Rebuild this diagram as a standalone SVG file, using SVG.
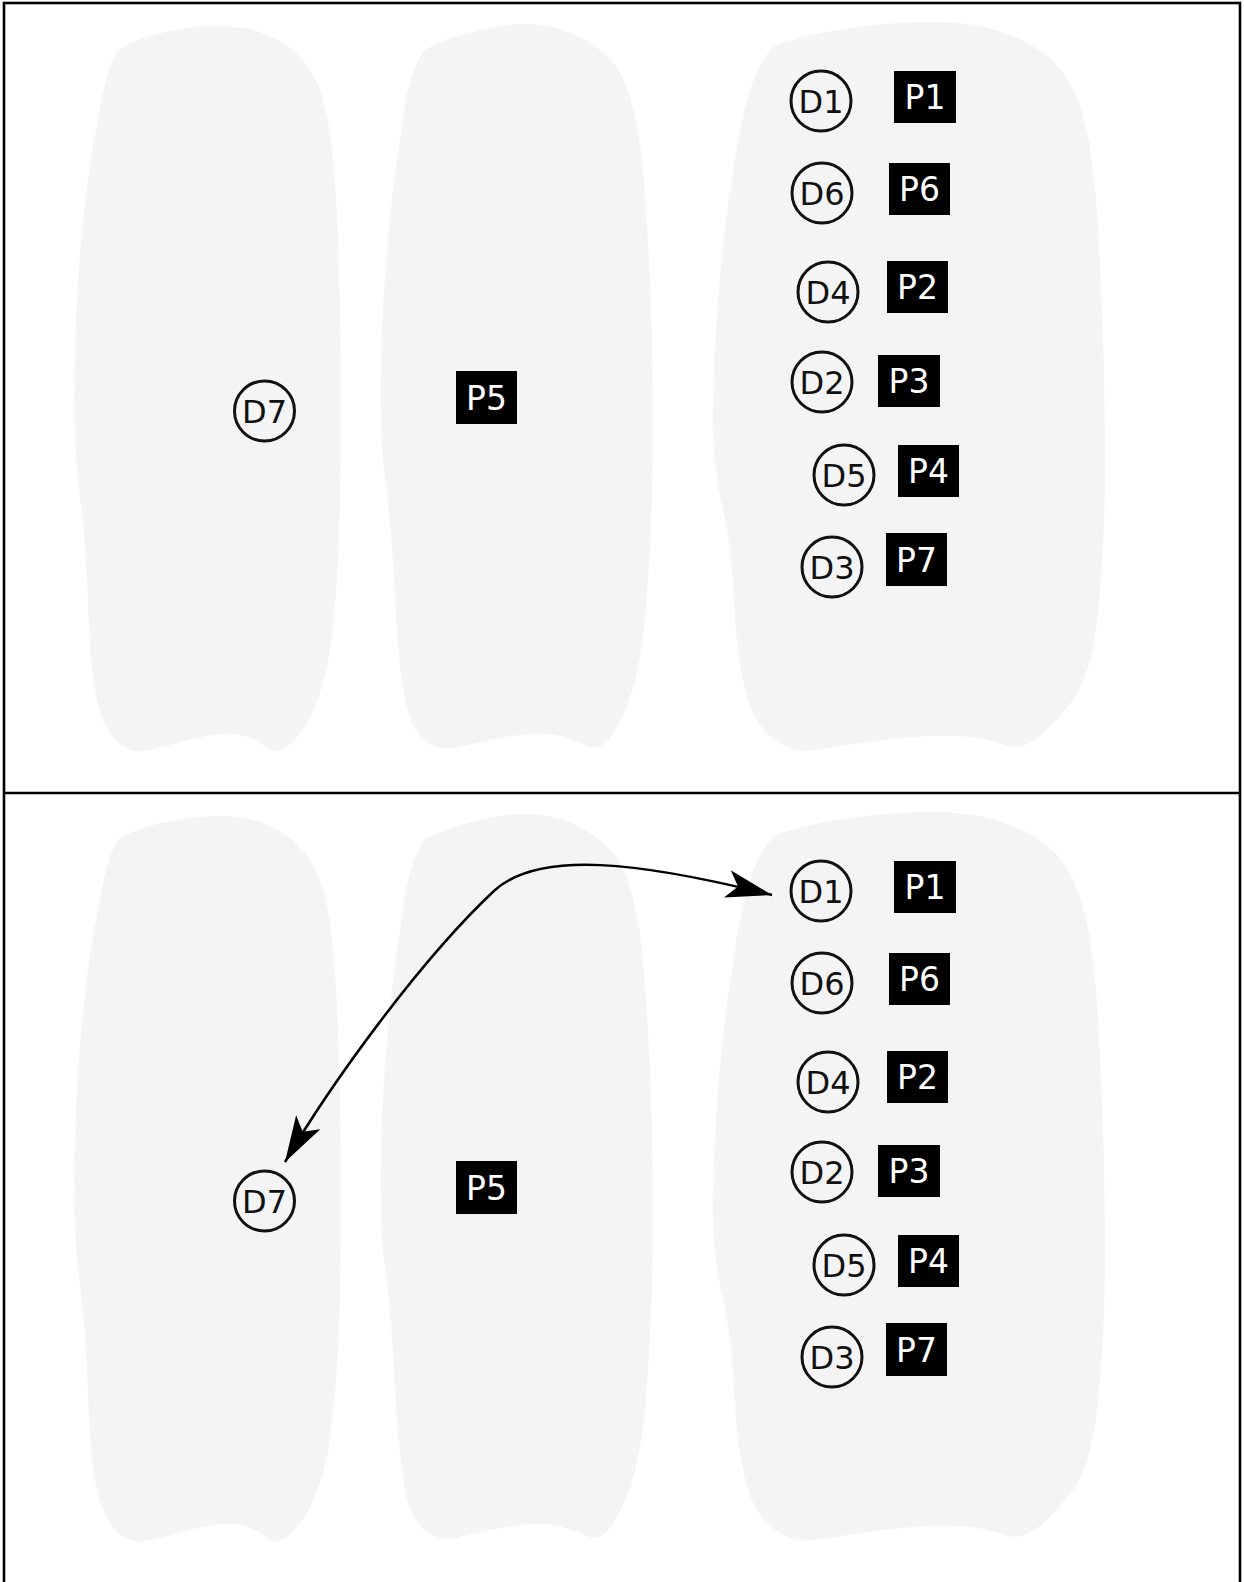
<svg xmlns="http://www.w3.org/2000/svg" width="1244" height="1582" viewBox="0 0 1244 1582">
<style>
.blob{fill:#f4f4f4;stroke:none}
.dnode circle{fill:none;stroke:#111;stroke-width:3}
.dnode text{font-family:"DejaVu Sans","Liberation Sans",sans-serif;font-size:32px;fill:#111;text-anchor:middle}
.pnode rect{fill:#000}
.pnode text{font-family:"DejaVu Sans","Liberation Sans",sans-serif;font-size:33px;fill:#fff;text-anchor:middle}
.frame{fill:none;stroke:#000;stroke-width:2.6}
.conn{fill:none;stroke:#000;stroke-width:2.5}
</style>
<defs>
<path id="blob1" d="M118,50 C140,35 185,26 217,26 C265,26 300,45 318,85 C332,120 336,180 338,240 C340,300 342,380 341,440 C340,540 337,600 330,650 C322,700 305,735 285,748 C278,752 272,752 266,747 C252,737 240,733 222,734 C195,736 165,748 145,751 C125,754 108,740 98,705 C90,670 89,630 87,580 C85,530 80,500 77,470 C73,420 74,380 76,320 C79,250 86,180 96,130 C102,95 108,65 118,50 Z"/>
<path id="blob2" d="M425,50 C450,35 495,24 527,24 C560,24 595,40 615,65 C632,90 640,130 644,180 C650,260 653,340 653,420 C653,500 650,560 645,620 C640,670 630,710 610,738 C602,748 594,750 585,745 C570,738 555,733 532,734 C505,735 475,744 455,748 C430,752 412,735 405,700 C398,660 396,620 394,580 C392,540 388,500 384,470 C380,430 380,380 382,330 C385,260 392,190 400,140 C405,100 410,70 425,50 Z"/>
<path id="blob3" d="M775,45 C820,30 880,22 935,22 C990,22 1040,40 1065,75 C1085,105 1092,150 1096,200 C1102,280 1105,380 1105,460 C1105,530 1102,580 1096,630 C1090,670 1080,695 1063,712 C1045,735 1025,752 1005,745 C985,738 965,735 932,736 C890,737 850,745 815,750 C790,754 765,740 752,710 C740,680 736,640 734,600 C732,560 728,530 722,505 C714,470 712,440 713,400 C715,320 722,240 732,180 C740,120 750,70 775,45 Z"/>
<marker id="arrow" viewBox="-50 -16 52 32" markerWidth="52" markerHeight="32" refX="0" refY="0" orient="auto-start-reverse" markerUnits="userSpaceOnUse">
<path d="M0,0 L-46,-14 L-35,0 L-46,14 Z" fill="#000"/>
</marker>
</defs>
<rect width="1244" height="1582" fill="#fff"/>

<g id="panel-top">
<g id="top-regions">
<use href="#blob1" class="blob"/>
<use href="#blob2" class="blob"/>
<use href="#blob3" class="blob"/>
</g>
<g id="top-D7" class="dnode"><circle cx="264.5" cy="411" r="30"/><text x="264.5" y="423">D7</text></g>
<g id="top-P5" class="pnode"><rect x="456" y="371" width="61" height="53"/><text x="486.5" y="409.5">P5</text></g>
<g id="top-D1" class="dnode"><circle cx="821" cy="101" r="30"/><text x="821" y="113">D1</text></g>
<g id="top-P1" class="pnode"><rect x="894" y="71" width="62" height="52"/><text x="925" y="109">P1</text></g>
<g id="top-D6" class="dnode"><circle cx="822" cy="193" r="30"/><text x="822" y="205">D6</text></g>
<g id="top-P6" class="pnode"><rect x="889" y="163" width="61" height="52"/><text x="919.5" y="201">P6</text></g>
<g id="top-D4" class="dnode"><circle cx="828" cy="292" r="30"/><text x="828" y="304">D4</text></g>
<g id="top-P2" class="pnode"><rect x="887" y="261" width="61" height="52"/><text x="917.5" y="299">P2</text></g>
<g id="top-D2" class="dnode"><circle cx="822" cy="382" r="30"/><text x="822" y="394">D2</text></g>
<g id="top-P3" class="pnode"><rect x="878" y="355" width="62" height="52"/><text x="909" y="393">P3</text></g>
<g id="top-D5" class="dnode"><circle cx="844" cy="475" r="30"/><text x="844" y="487">D5</text></g>
<g id="top-P4" class="pnode"><rect x="898" y="445" width="61" height="52"/><text x="928.5" y="483">P4</text></g>
<g id="top-D3" class="dnode"><circle cx="832" cy="567" r="30"/><text x="832" y="579">D3</text></g>
<g id="top-P7" class="pnode"><rect x="886" y="533" width="61" height="53"/><text x="916.5" y="571.5">P7</text></g>
</g>

<g id="panel-bottom" transform="translate(0,790)">
<g id="bottom-regions">
<use href="#blob1" class="blob"/>
<use href="#blob2" class="blob"/>
<use href="#blob3" class="blob"/>
</g>
<g id="bot-D7" class="dnode"><circle cx="264.5" cy="411" r="30"/><text x="264.5" y="423">D7</text></g>
<g id="bot-P5" class="pnode"><rect x="456" y="371" width="61" height="53"/><text x="486.5" y="409.5">P5</text></g>
<g id="bot-D1" class="dnode"><circle cx="821" cy="101" r="30"/><text x="821" y="113">D1</text></g>
<g id="bot-P1" class="pnode"><rect x="894" y="71" width="62" height="52"/><text x="925" y="109">P1</text></g>
<g id="bot-D6" class="dnode"><circle cx="822" cy="193" r="30"/><text x="822" y="205">D6</text></g>
<g id="bot-P6" class="pnode"><rect x="889" y="163" width="61" height="52"/><text x="919.5" y="201">P6</text></g>
<g id="bot-D4" class="dnode"><circle cx="828" cy="292" r="30"/><text x="828" y="304">D4</text></g>
<g id="bot-P2" class="pnode"><rect x="887" y="261" width="61" height="52"/><text x="917.5" y="299">P2</text></g>
<g id="bot-D2" class="dnode"><circle cx="822" cy="382" r="30"/><text x="822" y="394">D2</text></g>
<g id="bot-P3" class="pnode"><rect x="878" y="355" width="62" height="52"/><text x="909" y="393">P3</text></g>
<g id="bot-D5" class="dnode"><circle cx="844" cy="475" r="30"/><text x="844" y="487">D5</text></g>
<g id="bot-P4" class="pnode"><rect x="898" y="445" width="61" height="52"/><text x="928.5" y="483">P4</text></g>
<g id="bot-D3" class="dnode"><circle cx="832" cy="567" r="30"/><text x="832" y="579">D3</text></g>
<g id="bot-P7" class="pnode"><rect x="886" y="533" width="61" height="53"/><text x="916.5" y="571.5">P7</text></g>
</g>

<g id="connectors">
<path class="conn" d="M285,1162 C330,1085 420,960 495,890 C540,850 640,862 772,895" marker-start="url(#arrow)" marker-end="url(#arrow)"/>
</g>

<g id="frame">
<rect class="frame" x="4" y="3" width="1236" height="1590"/>
<line class="frame" x1="4" y1="793" x2="1240" y2="793"/>
</g>
</svg>
